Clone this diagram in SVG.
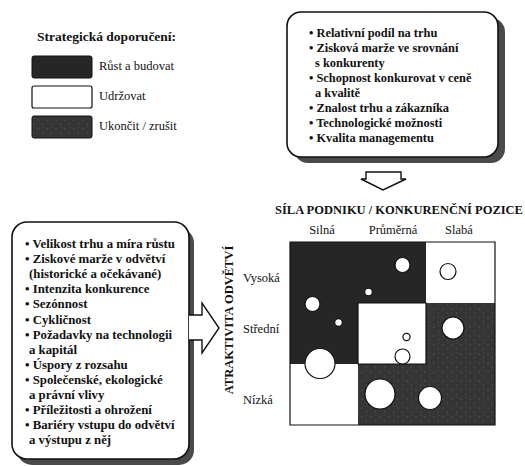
<svg xmlns="http://www.w3.org/2000/svg" width="525" height="466" viewBox="0 0 525 466">
  <style>
    .t { font-family: "Liberation Serif", "Times New Roman", serif; fill: #111; }
    .b { font-weight: bold; font-size: 12.4px; }
    .r { font-size: 12.5px; }
    .box { fill: #fff; stroke: #111; stroke-width: 1.6; }
    .shadow { fill: #4a4a4a; }
    .grow { fill: #262626; }
    .exit { fill: url(#speckle); }
    .hold { fill: #fff; }
    .dot { fill: #fff; stroke: #111; stroke-width: 1.2; }
    .arrow { fill: #fff; stroke: #111; stroke-width: 1.4; stroke-linejoin: miter; }
  </style>
  <defs>
    <pattern id="speckle" width="9" height="9" patternUnits="userSpaceOnUse">
      <rect width="9" height="9" fill="#353535"/>
      <circle cx="2" cy="3" r="0.5" fill="#777"/>
      <circle cx="6.5" cy="7" r="0.5" fill="#666"/>
      <circle cx="7" cy="1.5" r="0.4" fill="#6a6a6a"/>
    </pattern>
  </defs>

  <rect width="525" height="466" fill="#fff"/>

  <!-- legend -->
  <g id="legend">
    <text class="t b" x="37" y="41" style="font-size:13.5px">Strategická doporučení:</text>
    <rect x="32" y="56" width="60" height="22" rx="2" class="grow" stroke="#111" stroke-width="1"/>
    <text class="t r" x="99" y="70">Růst a budovat</text>
    <rect x="32" y="86" width="60" height="22" rx="2" fill="#fff" stroke="#111" stroke-width="1.2"/>
    <text class="t r" x="99" y="100">Udržovat</text>
    <rect x="32" y="116" width="60" height="22" rx="2" class="exit" stroke="#111" stroke-width="1"/>
    <text class="t r" x="99" y="130">Ukončit / zrušit</text>
  </g>

  <!-- competitive strength factors -->
  <g id="strength-factors">
    <rect x="294" y="18" width="211" height="145" rx="14" class="shadow"/>
    <rect x="287" y="12" width="211" height="145" rx="14" class="box"/>
    <text class="t b">
      <tspan x="309" y="37">• Relativní podíl na trhu</tspan>
      <tspan x="309" y="52">• Zisková marže ve srovnání</tspan>
      <tspan x="315" y="67">s konkurenty</tspan>
      <tspan x="309" y="82">• Schopnost konkurovat v ceně</tspan>
      <tspan x="315" y="97">a kvalitě</tspan>
      <tspan x="309" y="112">• Znalost trhu a zákazníka</tspan>
      <tspan x="309" y="127">• Technologické možnosti</tspan>
      <tspan x="309" y="142">• Kvalita managementu</tspan>
    </text>
  </g>

  <!-- industry attractiveness factors -->
  <g id="attractiveness-factors">
    <rect x="17" y="228" width="177" height="237" rx="15" class="shadow"/>
    <rect x="12" y="222" width="177" height="237" rx="15" class="box"/>
    <text class="t b" style="font-size:12.8px">
      <tspan x="25" y="248">• Velikost trhu a míra růstu</tspan>
      <tspan x="25" y="263.1">• Ziskové marže v odvětví</tspan>
      <tspan x="29" y="278.2">(historické a očekávané)</tspan>
      <tspan x="25" y="293.3">• Intenzita konkurence</tspan>
      <tspan x="25" y="308.4">• Sezónnost</tspan>
      <tspan x="25" y="323.5">• Cykličnost</tspan>
      <tspan x="25" y="338.6">• Požadavky na technologii</tspan>
      <tspan x="29" y="353.7">a kapitál</tspan>
      <tspan x="25" y="368.8">• Úspory z rozsahu</tspan>
      <tspan x="25" y="383.9">• Společenské, ekologické</tspan>
      <tspan x="29" y="399">a právní vlivy</tspan>
      <tspan x="25" y="414.1">• Příležitosti a ohrožení</tspan>
      <tspan x="25" y="429.2">• Bariéry vstupu do odvětví</tspan>
      <tspan x="29" y="444.3">a výstupu z něj</tspan>
    </text>
  </g>

  <!-- connectors -->
  <g id="connectors">
    <path class="arrow" d="M366,172 H401 V179 H406 L383,190 L361,179 H366 Z"/>
    <path class="arrow" d="M189,315 H202 V303 L219,328 L202,353 V340 H189"/>
  </g>

  <!-- axis labels -->
  <g id="axes">
    <text class="t b" x="275" y="214" style="font-size:12.5px">SÍLA PODNIKU / KONKURENČNÍ POZICE</text>
    <text class="t r" x="322" y="234" text-anchor="middle">Silná</text>
    <text class="t r" x="393" y="234" text-anchor="middle">Průměrná</text>
    <text class="t r" x="459" y="234" text-anchor="middle">Slabá</text>
    <text class="t r" x="243" y="282">Vysoká</text>
    <text class="t r" x="243" y="333">Střední</text>
    <text class="t r" x="243" y="404">Nízká</text>
    <text class="t b" transform="translate(233,320) rotate(-90)" text-anchor="middle" style="font-size:12.5px">ATRAKTIVITA ODVĚTVÍ</text>
  </g>

  <!-- nine-cell matrix -->
  <g id="matrix">
    <rect x="290" y="242" width="68" height="61" class="grow"/>
    <rect x="358" y="242" width="68" height="61" class="grow"/>
    <rect x="426" y="242" width="69" height="61" class="hold"/>
    <rect x="290" y="303" width="68" height="61" class="grow"/>
    <rect x="358" y="303" width="68" height="61" class="hold"/>
    <rect x="426" y="303" width="69" height="61" class="exit"/>
    <rect x="290" y="364" width="68" height="61" class="hold"/>
    <rect x="358" y="364" width="68" height="61" class="exit"/>
    <rect x="426" y="364" width="69" height="61" class="exit"/>
    <path d="M358,303 V364 H426 V303 Z M290,242 H495 V425 H290 Z" fill="none" stroke="#111" stroke-width="1.2"/>
  </g>

  <!-- business units -->
  <g id="units">
    <circle class="dot" cx="402.5" cy="265" r="7.5"/>
    <circle class="dot" cx="368.5" cy="292" r="3.8"/>
    <circle class="dot" cx="448" cy="271.5" r="8" stroke-width="1.6"/>
    <circle class="dot" cx="312.5" cy="304" r="7.5"/>
    <circle class="dot" cx="338.5" cy="322.5" r="3.8"/>
    <circle class="dot" cx="453" cy="328" r="11"/>
    <circle class="dot" cx="406.5" cy="337" r="3.6"/>
    <circle class="dot" cx="402.5" cy="356.5" r="7.5"/>
    <circle class="dot" cx="320" cy="363.5" r="15"/>
    <circle class="dot" cx="380" cy="394" r="15"/>
    <circle class="dot" cx="430" cy="398" r="11.5"/>
  </g>
</svg>
